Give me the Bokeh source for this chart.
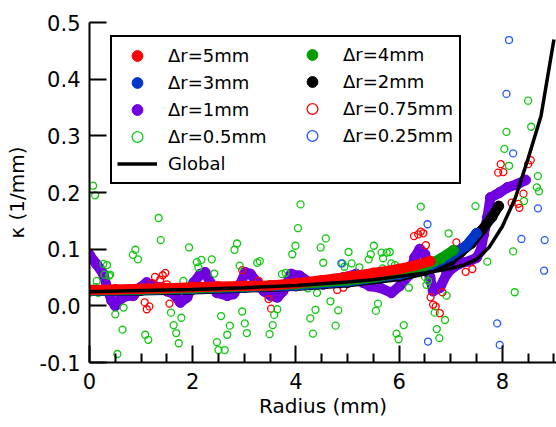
from bokeh.plotting import figure
from bokeh.models import Range1d, FixedTicker, PrintfTickFormatter, Legend, LegendItem
from bokeh.embed import file_html
from bokeh.resources import INLINE

FONT = "DejaVu Sans"

# ---------------- axis ticks / labels ----------------
x_ticks = [0, 2, 4, 6, 8]
x_minor_ticks = [0.5, 1.0, 1.5, 2.5, 3.0, 3.5, 4.5, 5.0, 5.5, 6.5, 7.0, 7.5, 8.5, 9.0]
y_ticks = [-0.1, 0.0, 0.1, 0.2, 0.3, 0.4, 0.5]
x_label = "Radius (mm)"
y_label = "κ (1/mm)"

# ---------------- filled (dense) series ----------------
r5_x = [0.0, 0.5, 1.0, 1.5, 2.0, 2.5, 3.0, 3.5, 4.0, 4.5, 5.0, 5.5, 6.0, 6.3, 6.6]
r5_y = [0.028, 0.029, 0.030, 0.031, 0.033, 0.034, 0.035, 0.036, 0.040, 0.045, 0.051, 0.058, 0.065, 0.071, 0.079]

r4_x = [0.0, 1.0, 2.0, 3.0, 4.0, 5.0, 5.5, 6.0, 6.5, 6.8, 7.05]
r4_y = [0.027, 0.029, 0.031, 0.034, 0.038, 0.045, 0.050, 0.058, 0.071, 0.083, 0.098]

r3_x = [0.0, 1.0, 2.0, 3.0, 4.0, 5.0, 6.0, 6.5, 7.0, 7.3, 7.5]
r3_y = [0.026, 0.028, 0.030, 0.033, 0.036, 0.043, 0.055, 0.066, 0.088, 0.106, 0.128]

r2_x = [0.0, 1.0, 2.0, 3.0, 4.0, 5.0, 6.0, 6.5, 7.0, 7.2, 7.4, 7.6, 7.8, 7.93]
r2_y = [0.026, 0.027, 0.029, 0.032, 0.035, 0.041, 0.052, 0.062, 0.080, 0.095, 0.110, 0.133, 0.157, 0.176]

r1_x = [0.0, 0.14, 0.27, 0.34, 0.43, 0.50, 0.60, 0.73, 0.85, 0.98, 1.11, 1.24, 1.37, 1.50,
        1.63, 1.76, 1.89, 2.02, 2.15, 2.24, 2.34, 2.47, 2.67, 2.79, 2.92, 3.02, 3.12, 3.25,
        3.38, 3.51, 3.64, 3.75, 3.91, 4.07, 4.27, 4.53, 4.72, 4.92, 5.17, 5.30, 5.43, 5.63,
        5.85, 6.01, 6.21, 6.30, 6.40, 6.50, 6.60, 6.66, 6.79, 6.92, 7.05, 7.21, 7.37, 7.50,
        7.58, 7.64, 7.71, 7.77, 7.95, 8.10, 8.30, 8.45]
r1_y = [0.090, 0.073, 0.056, 0.032, 0.009, 0.000, 0.012, 0.018, 0.018, 0.032, 0.041, 0.035, 0.032, 0.026,
        0.021, 0.006, 0.015, 0.041, 0.056, 0.059, 0.041, 0.023, 0.018, 0.021, 0.038, 0.059, 0.056, 0.041,
        0.026, 0.018, 0.015, 0.026, 0.056, 0.053, 0.041, 0.038, 0.047, 0.050, 0.056, 0.041, 0.035, 0.032,
        0.023, 0.035, 0.056, 0.085, 0.100, 0.091, 0.050, 0.026, 0.032, 0.056, 0.068, 0.076, 0.079, 0.085,
        0.097, 0.126, 0.156, 0.191, 0.200, 0.209, 0.215, 0.222]

# ---------------- open-circle series ----------------
r075_x = [1.27, 1.37, 1.42, 1.47, 1.50, 1.21, 1.07, 1.11, 1.16, 1.55, 2.96, 3.28, 3.47, 3.52,
          4.80, 4.92, 6.29, 6.37, 6.42, 6.47, 6.52, 7.11, 7.29, 7.42, 6.84, 6.61, 6.66, 6.71,
          6.79, 7.97, 7.92, 8.02, 8.55, 8.50, 8.41, 8.31, 8.33, 8.18]
r075_y = [0.051, 0.046, 0.054, 0.058, 0.038, 0.040, 0.006, -0.006, -0.001, 0.004, 0.063, 0.044, 0.012, -0.005,
          0.028, 0.032, 0.123, 0.126, 0.131, 0.128, 0.107, 0.112, 0.060, 0.065, 0.024, 0.015, 0.002, -0.001,
          -0.013, 0.250, 0.235, 0.236, 0.257, 0.250, 0.198, 0.180, 0.173, 0.182]

r05_x = [0.07, 0.11, 1.34, 1.38, 1.93, 0.89, 0.84, 0.94, 2.08, 2.17, 2.11, 0.27, 0.34, 0.40,
         0.29, 0.38, 0.14, 0.17, 0.12, 1.82, 0.50, 0.64, 0.66, 0.54, 1.08, 1.14, 1.58, 1.63,
         1.68, 1.78, 1.73, 2.55, 2.47, 2.50, 2.62, 2.72, 2.67, 2.96, 3.01, 3.05, 3.64, 3.58,
         3.55, 3.49, 2.86, 2.81, 3.30, 3.25, 2.37, 2.91, 2.42, 3.73, 3.80, 4.23, 4.41, 4.09,
         4.04, 3.99, 3.93, 4.58, 4.48, 4.53, 5.02, 4.90, 4.94, 5.08, 5.23, 5.51, 5.45, 5.41,
         5.66, 5.76, 5.82, 5.69, 5.85, 5.92, 5.68, 6.96, 6.50, 6.56, 6.53, 6.19, 6.92, 8.21,
         7.71, 8.24, 5.59, 5.55, 4.67, 4.82, 4.38, 4.28, 4.77, 4.33, 6.09, 5.95, 5.99, 6.89,
         6.73, 6.78, 6.69, 6.42, 7.48, 8.50, 8.56, 8.08, 8.04, 8.13, 8.69, 8.67, 8.71, 8.42]
r05_y = [0.212, 0.195, 0.155, 0.116, 0.103, 0.099, 0.090, 0.082, 0.077, 0.081, 0.068, 0.074, 0.072, 0.055,
         0.055, 0.053, 0.044, 0.023, 0.033, 0.044, -0.015, -0.042, -0.003, -0.085, -0.051, -0.060, -0.012, -0.034,
         -0.048, -0.021, -0.066, -0.018, -0.064, -0.078, -0.078, -0.035, -0.051, -0.010, -0.031, -0.048, -0.006, -0.016,
         -0.034, -0.050, 0.110, 0.099, 0.079, 0.076, 0.082, 0.071, 0.057, 0.056, 0.058, 0.031, 0.023, 0.179,
         0.137, 0.106, 0.091, 0.119, 0.103, 0.076, 0.095, 0.075, 0.069, 0.075, 0.068, 0.106, 0.091, 0.082,
         0.094, 0.094, 0.095, 0.084, 0.075, 0.072, 0.066, 0.128, 0.051, 0.044, 0.037, 0.032, 0.018, 0.096,
         0.078, 0.024, 0.004, -0.009, 0.008, -0.008, -0.007, -0.022, -0.035, -0.049, -0.034, -0.049, -0.059, -0.025,
         -0.041, -0.057, -0.012, 0.175, 0.176, 0.362, 0.316, 0.307, 0.277, 0.247, 0.229, 0.209, 0.202, 0.185]

r025_x = [8.13, 8.08, 8.21, 8.69, 8.37, 8.82, 8.81, 7.90, 7.95, 6.56, 6.55, 4.88]
r025_y = [0.469, 0.374, 0.269, 0.172, 0.118, 0.116, 0.062, -0.031, -0.069, -0.063, 0.144, 0.075]

# ---------------- global fit ----------------
glob_x = [0.0, 1.0, 2.0, 3.0, 4.0, 5.0, 5.5, 6.0, 6.5, 7.0, 7.25, 7.5, 7.75, 8.0, 8.25, 8.5, 8.75, 9.0]
glob_y = [0.025, 0.027, 0.029, 0.032, 0.036, 0.042, 0.046, 0.052, 0.058, 0.066, 0.072, 0.082, 0.104,
          0.140, 0.190, 0.260, 0.335, 0.470]

labels_col1 = ["Δr=5mm", "Δr=3mm", "Δr=1mm", "Δr=0.5mm", "Global"]
labels_col2 = ["Δr=4mm", "Δr=2mm", "Δr=0.75mm", "Δr=0.25mm"]

RED = "#ff0000"
GREEN_F = "#009c00"
GREEN_O = "#10c810"
BLUE_F = "#0036c8"
BLUE_O = "#2058ff"
PURPLE = "#7000e0"
BLACK = "#000000"

p = figure(width=556, height=427, x_range=Range1d(0, 9.05), y_range=Range1d(-0.1, 0.5),
           output_backend="svg", toolbar_location=None,
           min_border_left=89, min_border_right=0, min_border_top=22, min_border_bottom=65,
           background_fill_color="white", border_fill_color="white", outline_line_color=None)
p.grid.visible = False

BAND = 10

def band(xs, ys, color):
    p.line(xs, ys, line_width=BAND, line_color=color, line_join="round", line_cap="round")
    return p.scatter(xs, ys, marker="circle", size=BAND, fill_color=color, line_color=color)

s1 = band(r1_x, r1_y, PURPLE)

o075 = p.scatter(r075_x, r075_y, marker="circle", size=7, fill_color=None, line_color=RED, line_width=1.3)
o05 = p.scatter(r05_x, r05_y, marker="circle", size=7, fill_color=None, line_color=GREEN_O, line_width=1.3)
o025 = p.scatter(r025_x, r025_y, marker="circle", size=7, fill_color=None, line_color=BLUE_O, line_width=1.3)

s2 = band(r2_x, r2_y, BLACK)
s3 = band(r3_x, r3_y, BLUE_F)
s4 = band(r4_x, r4_y, GREEN_F)
s5 = band(r5_x, r5_y, RED)

gl = p.line(glob_x, glob_y, line_width=3.5, line_color=BLACK)

# axes
for ax in (p.xaxis[0], p.yaxis[0]):
    ax.axis_line_width = 2
    ax.axis_line_color = "black"
    ax.major_tick_line_width = 2
    ax.major_tick_in = 17
    ax.major_tick_out = 0
    ax.minor_tick_line_width = 2
    ax.minor_tick_in = 9
    ax.minor_tick_out = 0
    ax.major_label_text_font = FONT
    ax.major_label_text_font_size = "21px"
    ax.major_label_text_color = "black"
    ax.axis_label_text_font = FONT
    ax.axis_label_text_font_size = "20px"
    ax.axis_label_text_font_style = "normal"
    ax.axis_label_text_color = "black"

p.xaxis.ticker = FixedTicker(ticks=x_ticks, minor_ticks=x_minor_ticks)
p.xaxis.formatter = PrintfTickFormatter(format="%d")
p.xaxis.axis_label = x_label
p.xaxis.major_label_standoff = 10
p.xaxis.axis_label_standoff = 2

p.yaxis.ticker = FixedTicker(ticks=y_ticks)
p.yaxis.formatter = PrintfTickFormatter(format="%.1f")
p.yaxis.minor_tick_line_color = None
p.yaxis.axis_label = y_label
p.yaxis.major_label_standoff = 9
p.yaxis.axis_label_standoff = 8

col1_renderers = [s5, s3, s1, o05, gl]
col2_renderers = [s4, s2, o075, o025]

common = dict(label_text_font=FONT, label_text_font_size="18px", label_text_color="black",
              glyph_width=40, glyph_height=27, spacing=0, padding=5, label_standoff=11, margin=0)

leg1 = Legend(items=[LegendItem(label=l, renderers=[r]) for l, r in zip(labels_col1, col1_renderers)],
              location=(21, 178), label_width=286,
              border_line_color="black", border_line_width=2, border_line_alpha=1.0,
              background_fill_color="white", background_fill_alpha=1.0, **common)
leg2 = Legend(items=[LegendItem(label=l, renderers=[r]) for l, r in zip(labels_col2, col2_renderers)],
              location=(203, 213), border_line_color=None, background_fill_alpha=0.0, **common)
p.add_layout(leg1, "center")
p.add_layout(leg2, "center")

open("out.html", "w").write(file_html(p, INLINE))
